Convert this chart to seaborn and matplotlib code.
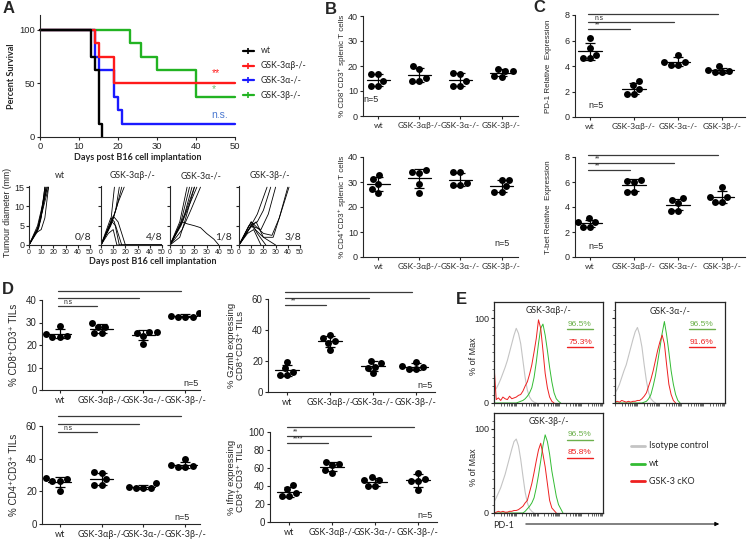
import numpy as np
import pandas as pd
import matplotlib
matplotlib.use("Agg")
import matplotlib.pyplot as plt
from matplotlib.lines import Line2D
from matplotlib.patches import FancyArrowPatch
from matplotlib.ticker import FixedLocator, MultipleLocator, NullFormatter
import seaborn as sns

W, H = 747, 542

groups = ["wt", "GSK-3αβ-/-", "GSK-3α-/-", "GSK-3β-/-"]
km_colors = ["black", "#ff1a1a", "#1a1aff", "#22b322"]

# A: Kaplan-Meier survival (step points)
km_days = [
    [0, 13, 14, 15, 16],
    [0, 14, 15, 19, 50],
    [0, 14, 15, 19, 20, 21, 50],
    [0, 23, 26, 30, 40, 50],
]
km_surv = [
    [100, 75, 62.5, 12.5, 0],
    [100, 87.5, 75, 50, 50],
    [100, 75, 62.5, 37.5, 25, 12.5, 12.5],
    [100, 87.5, 75, 62.5, 37.5, 37.5],
]

# A: tumour growth per mouse (days, diameter mm)
tumour_wt = [
    ([0, 7, 10, 13], [0, 4, 8, 15]),
    ([0, 7, 10, 14], [0, 5, 9, 15]),
    ([0, 7, 11, 15], [0, 4, 10, 15]),
    ([0, 8, 12, 16], [0, 5, 10, 15]),
    ([0, 8, 12, 15], [0, 4.5, 11, 15]),
    ([0, 7, 10, 13], [0, 3.5, 7, 15]),
    ([0, 5, 10, 13, 16], [0, 3, 4, 7, 15]),
    ([0, 7, 11, 14], [0, 4.2, 9, 15]),
]
tumour_ab = [
    ([0, 8, 11], [0, 6, 15]),
    ([0, 8, 12, 15], [0, 5, 9, 15]),
    ([0, 9, 13, 17], [0, 6, 10, 15]),
    ([0, 10, 14, 19], [0, 7, 11, 15]),
    ([0, 8, 11, 15, 50], [0, 7, 6, 0, 0]),
    ([0, 9, 12, 17, 50], [0, 6, 5, 0, 0]),
    ([0, 10, 14, 20, 50], [0, 7.5, 6, 0, 0]),
    ([0, 6, 10, 13, 50], [0, 3, 4, 0, 0]),
]
tumour_a = [
    ([0, 8, 14], [0, 6, 15]),
    ([0, 9, 16], [0, 6, 15]),
    ([0, 8, 12, 18], [0, 5, 8, 15]),
    ([0, 10, 20], [0, 6, 15]),
    ([0, 9, 14, 22], [0, 5, 9, 15]),
    ([0, 10, 17, 25], [0, 4, 9, 15]),
    ([0, 8, 12, 20], [0, 2, 6, 15]),
    ([0, 10, 14, 20, 25, 30, 36, 40], [0, 6, 5.5, 5, 4.5, 3, 1.5, 0]),
]
tumour_b = [
    ([0, 8, 15, 23], [0, 4, 8, 15]),
    ([0, 8, 15, 20, 26], [0, 5, 6, 9, 15]),
    ([0, 10, 18, 24, 30], [0, 5, 4, 8, 15]),
    ([0, 10, 20, 27, 33, 40], [0, 6, 3, 2.5, 7, 15]),
    ([0, 10, 20, 28, 34, 41], [0, 5, 2, 2, 8, 15]),
    ([0, 8, 14, 20, 25, 30], [0, 4, 6, 2, 1, 0]),
    ([0, 10, 15, 22], [0, 6, 3, 0]),
    ([0, 7, 12, 18], [0, 3, 4, 0]),
]
tumour_frac = ["0/8", "4/8", "1/8", "3/8"]

# B, C, D: per-mouse values (wt, 3ab, 3a, 3b)
cd8_spleen = [[17, 17, 14, 12, 12], [19.9, 18.8, 15.2, 14.1, 14.1],
              [17.4, 17, 14, 12, 12], [18.8, 18.1, 18.1, 16.1, 15.7]]
cd4_spleen = [[32.7, 31.3, 29.3, 27.3, 25.6], [34.7, 34, 33.6, 29.3, 25.6],
              [34, 34, 29.6, 28.7, 28.7], [30.9, 30.9, 28.3, 26, 26]]
pd1_expr = [[6.2, 5.4, 4.9, 4.6, 4.6], [2.8, 2.5, 2.2, 1.8, 1.8],
            [4.9, 4.3, 4.3, 4.1, 4.1], [4.0, 3.7, 3.6, 3.5, 3.5]]
tbet_expr = [[3.1, 2.8, 2.8, 2.4, 2.4], [6.2, 6.1, 6.0, 5.2, 5.2],
             [4.7, 4.6, 4.3, 3.7, 3.7], [5.6, 4.8, 4.8, 4.4, 4.4]]
cd8_til = [[28.5, 25, 24, 23.7, 23.7], [29.6, 28.1, 27.8, 25.2, 25.2],
           [26, 26, 25.2, 24.2, 20.5], [34.4, 32.9, 32.6, 32.6, 32.6]]
gzmb_til = [[19.6, 15.2, 13, 10.9, 10.9], [36.9, 34.8, 32.6, 31.5, 27.2],
            [20, 19, 16.3, 15.2, 12], [19.6, 16.7, 16.3, 14.6, 14.6]]
cd4_til = [[28, 27.3, 26.3, 26.3, 20.4], [32, 31, 27.3, 23.9, 23.9],
           [24.9, 22.9, 21.8, 21.8, 21.8], [39.6, 36.1, 35.5, 35.1, 35.1]]
ifng_til = [[41, 36.4, 32, 29, 29], [67, 64, 63, 58, 55],
            [50, 46.5, 46.5, 40, 40], [55, 48, 46, 46, 36]]

# E: PD-1 histograms (% of max per channel)
iso_ab = [14, 17, 22, 28, 35, 42, 50, 60, 70, 80, 88, 82, 70, 50, 30, 15, 7, 3, 1, 0]
ko_ab = [45, 4, 6, 3, 7, 5, 4, 8, 5, 6, 7, 9, 10, 14, 20, 25, 34, 45, 60, 76, 98, 88, 62, 35, 18, 7, 2, 0]
wt_ab = [0, 0, 0, 0, 0, 0, 0, 0, 0, 0, 0, 1, 2, 3, 5, 8, 12, 18, 30, 48, 70, 88, 93, 80, 62, 42, 25, 12, 5, 2, 0]
iso_a = [12, 16, 22, 30, 38, 45, 55, 65, 75, 84, 89, 80, 66, 45, 26, 12, 5, 2, 0]
ko_a = [1, 2, 1, 3, 2, 1, 2, 1, 2, 2, 3, 3, 5, 8, 12, 20, 28, 38, 50, 62, 72, 80, 70, 45, 22, 10, 3, 0]
wt_a = [0, 0, 0, 0, 0, 0, 0, 0, 0, 0, 0, 0, 0, 1, 2, 5, 10, 20, 32, 48, 65, 82, 96, 80, 60, 38, 22, 10, 3, 0]
iso_b = [13, 18, 24, 30, 38, 46, 56, 66, 76, 85, 88, 80, 64, 44, 25, 12, 5, 2, 0]
ko_b = [0, 1, 2, 1, 2, 1, 1, 2, 2, 3, 3, 4, 6, 8, 12, 15, 25, 35, 48, 62, 75, 83, 70, 55, 35, 15, 6, 3, 0]
wt_b = [0, 0, 0, 0, 0, 0, 0, 0, 0, 0, 0, 0, 0, 0, 2, 5, 8, 12, 18, 30, 45, 62, 80, 93, 85, 70, 50, 35, 20, 10, 5, 0]
pct_wt = ["96.5%", "96.5%", "96.5%"]
pct_ko = ["75.3%", "91.6%", "85.8%"]

sns.set_theme(style="ticks")
ARIAL = ["Liberation Sans", "DejaVu Sans"]
CALIBRI = ["Lato", "DejaVu Sans"]
plt.rcParams["font.family"] = ARIAL
plt.rcParams["font.size"] = 6.5
plt.rcParams["axes.linewidth"] = 0.8
plt.rcParams["xtick.major.width"] = 0.8
plt.rcParams["ytick.major.width"] = 0.8
plt.rcParams["xtick.major.size"] = 2.5
plt.rcParams["ytick.major.size"] = 2.5
plt.rcParams["xtick.major.pad"] = 1.5
plt.rcParams["ytick.major.pad"] = 1.2

fig = plt.figure(figsize=(W / 100, H / 100), dpi=100)


def add_ax(x0, y0, x1, y1):
    return fig.add_axes([x0 / W, 1 - y1 / H, (x1 - x0) / W, (y1 - y0) / H])


def ftext(x, y, s, **kw):
    fig.text(x / W, 1 - y / H, s, **kw)


def fline(xs, ys, **kw):
    fig.add_artist(Line2D([x / W for x in xs], [1 - y / H for y in ys], **kw))


# panel letters
for letter, (lx, ly) in zip("ABCDE", [(3, 1), (325, 2), (533, 0), (2, 282), (456, 292)]):
    ftext(lx, ly, letter, fontsize=12, fontweight="bold", ha="left", va="top")

# ---- A: survival
ax = add_ax(40, 15, 235, 137)
for i in [3, 2, 1, 0]:
    sns.lineplot(x=km_days[i], y=km_surv[i], drawstyle="steps-post", color=km_colors[i],
                 lw=1.7, estimator=None, ax=ax, clip_on=False)
ax.set_xlim(0, 50)
ax.set_ylim(0, 114)
ax.set_xticks([0, 10, 20, 30, 40, 50])
ax.set_yticks([0, 50, 100])
ax.tick_params(labelsize=6.8)
ax.tick_params(axis="x", pad=1)
sns.despine(ax=ax)
ax.text(45, 60, "**", color="#ff2020", fontsize=7.5, ha="center", va="center")
ax.text(44.5, 45, "*", color="#70b870", fontsize=7.5, ha="center", va="center")
ax.text(46, 21, "n.s.", color="#4a78d0", fontsize=7.5, ha="center", va="center")
ftext(12, 76, "Percent Survival", rotation=90, ha="center", va="center",
      fontsize=6.5, fontweight="bold", family=CALIBRI)
ftext(138, 157, "Days post B16 cell implantation", ha="center", va="center",
      fontsize=6.5, fontweight="bold", family=CALIBRI)
for k, yy in enumerate([51, 66, 80, 95]):
    fline([243, 254], [yy, yy], color=km_colors[k], lw=1.6)
    fline([248.5], [yy], color=km_colors[k], marker="|", markersize=4, markeredgewidth=1.2)
    ftext(261, yy, groups[k], ha="left", va="center", fontsize=6.3, family=CALIBRI)

# ---- A: tumour growth
tumour_sets = [tumour_wt, tumour_ab, tumour_a, tumour_b]
for k, x0 in enumerate([29, 101, 170, 239]):
    ax = add_ax(x0, 186, x0 + 61, 245)
    for days, mm in tumour_sets[k]:
        sns.lineplot(x=days, y=mm, color="black", lw=0.6, estimator=None, sort=False, ax=ax)
    ax.set_xlim(0, 50)
    ax.set_ylim(0, 15.3)
    ax.set_xticks([0, 10, 20, 30, 40, 50])
    ax.set_yticks([0, 5, 10, 15])
    ax.tick_params(axis="x", labelsize=5, length=2, pad=1)
    ax.tick_params(axis="y", labelsize=6.5, length=2)
    if k > 0:
        ax.set_yticklabels([])
    sns.despine(ax=ax)
    ax.text(44, 2.2, tumour_frac[k], ha="center", va="center", fontsize=7.5, family=CALIBRI)
    ftext(x0 + 31, 176, groups[k], ha="center", va="center", fontsize=6.3, family=CALIBRI)
ftext(8, 212, "Tumour diameter (mm)", rotation=90, ha="center", va="center", fontsize=6.3)
ftext(153, 261, "Days post B16 cell implantation", ha="center", va="center",
      fontsize=6.5, fontweight="bold", family=CALIBRI)


# ---- dot plots
def dot_panel(rect, data, ylim, yticks, xlim, ylabel, ylab_x, n_xy, sigs=None,
              ylab_fs=5.8, tick_fs=6.5, cat_fs=6):
    ax = add_ax(*rect)
    df = pd.DataFrame({"group": np.repeat(groups, 5), "value": np.concatenate(data)})
    sns.swarmplot(data=df, x="group", y="value", order=groups, color="black", size=5, ax=ax)
    for i, vals in enumerate(data):
        m, s = np.mean(vals), np.std(vals, ddof=1)
        ax.plot([i - 0.28, i + 0.28], [m, m], color="black", lw=0.9)
        ax.errorbar(i, m, yerr=s, color="black", lw=0.9, capsize=3.5, capthick=0.9)
    ax.set_xlim(*xlim)
    ax.set_ylim(*ylim)
    ax.set_yticks(yticks)
    ax.set_xlabel("")
    ax.set_ylabel("")
    ax.tick_params(axis="y", labelsize=tick_fs)
    ax.tick_params(axis="x", labelsize=cat_fs)
    for t in ax.get_xticklabels():
        t.set_family(CALIBRI)
    sns.despine(ax=ax)
    ftext(ylab_x, (rect[1] + rect[3]) / 2, ylabel, rotation=90, ha="center", va="center",
          fontsize=ylab_fs, linespacing=1.05)
    ftext(n_xy[0], n_xy[1], "n=5", ha="center", va="center", fontsize=6.5)
    if sigs:
        for yv, end, lab in sigs:
            ax.plot([-0.05, end - 0.1], [yv, yv], color="#3a3a3a", lw=0.9, clip_on=False)
            ax.annotate(lab, (0.1, yv), xytext=(0, 0.3), textcoords="offset points",
                        ha="left", va="bottom", fontsize=4.8)
    return ax


dot_panel((363, 16, 518, 116), cd8_spleen, (0, 40), [0, 10, 20, 30, 40], (-0.37, 3.4),
          "% CD8⁺CD3⁺ splenic T cells", 342, (371, 100))
dot_panel((363, 157, 518, 257), cd4_spleen, (0, 40), [0, 10, 20, 30, 40], (-0.37, 3.4),
          "% CD4⁺CD3⁺ splenic T cells", 342, (502, 243))
dot_panel((575, 15, 745, 117), pd1_expr, (0, 8), [0, 2, 4, 6, 8], (-0.34, 3.52),
          "PD-1 Relative  Expression", 549, (596, 106),
          [(8.08, 3, "**"), (7.45, 2, "n.s"), (6.9, 1, "**")])
dot_panel((575, 157, 745, 257), tbet_expr, (0, 8), [0, 2, 4, 6, 8], (-0.34, 3.52),
          "T-bet Relative  Expression", 549, (596, 247),
          [(8.16, 3, "**"), (7.5, 2, "**"), (6.96, 1, "**")])
dot_panel((42, 300, 200, 390), cd8_til, (0, 40), [0, 10, 20, 30, 40], (-0.42, 3.35),
          "% CD8⁺CD3⁺ TILs", 14, (191, 383),
          [(44, 3, "***"), (40.9, 2, "n.s"), (37.3, 1, "n.s")],
          ylab_fs=7, tick_fs=7, cat_fs=6.5)
dot_panel((268, 299, 435, 392), gzmb_til, (0, 60), [0, 20, 40, 60], (-0.44, 3.44),
          "% Gzmb expressing\nCD8⁺CD3⁺ TILs", 236, (425, 385),
          [(64.5, 3, "n.s"), (60.6, 2, "n.s"), (56.1, 1, "**")],
          ylab_fs=6.8, tick_fs=7, cat_fs=6.5)
dot_panel((42, 426, 200, 524), cd4_til, (0, 60), [0, 20, 40, 60], (-0.42, 3.35),
          "% CD4⁺CD3⁺ TILs", 14, (182, 517),
          [(66, 3, "***"), (61.2, 2, "n.s"), (56.3, 1, "n.s")],
          ylab_fs=7, tick_fs=7, cat_fs=6.5)
dot_panel((270, 432, 437, 522), ifng_til, (0, 100), [0, 20, 40, 60, 80, 100], (-0.44, 3.44),
          "% Ifnγ expressing\nCD8⁺CD3⁺ TILs", 236, (425, 516),
          [(105.5, 3, "**"), (95.5, 2, "**"), (87.8, 1, "****")],
          ylab_fs=6.8, tick_fs=7, cat_fs=6.5)

# ---- E: PD-1 histograms
decade_ticks = [(d + np.log10(k)) * 49 / 5 for d in range(5) for k in range(1, 10)]
hist_sets = [(iso_ab, wt_ab, ko_ab), (iso_a, wt_a, ko_a), (iso_b, wt_b, ko_b)]
hist_rects = [(494, 302, 603, 403), (615, 302, 725, 403), (494, 413, 603, 513)]
hist_titles = ["GSK-3αβ-/-", "GSK-3α-/-", "GSK-3β-/-"]
for k in range(3):
    ax = add_ax(*hist_rects[k])
    iso, wt, ko = hist_sets[k]
    sns.lineplot(x=range(len(iso)), y=iso, color="#c4c4c4", lw=0.8, estimator=None, ax=ax)
    sns.lineplot(x=range(len(wt)), y=wt, color="#33bb33", lw=0.7, estimator=None, ax=ax)
    sns.lineplot(x=range(len(ko)), y=ko, color="#ee2020", lw=0.7, estimator=None, ax=ax)
    ax.set_xlim(0, 49)
    ax.set_ylim(0, 119)
    ax.xaxis.set_major_locator(FixedLocator(decade_ticks))
    ax.xaxis.set_major_formatter(NullFormatter())
    ax.tick_params(axis="x", length=1.8, width=0.5)
    ax.set_yticks([0, 100])
    ax.yaxis.set_minor_locator(MultipleLocator(10))
    ax.tick_params(axis="y", which="minor", length=1.5, width=0.5)
    ax.tick_params(axis="y", labelsize=6.5)
    if k == 1:
        ax.set_yticklabels([])
    for sp in ax.spines.values():
        sp.set_linewidth(0.9)
    ax.text(0.5, 0.96, hist_titles[k], transform=ax.transAxes, ha="center", va="top",
            fontsize=6.3, family=CALIBRI)
    x1, y1 = hist_rects[k][2], hist_rects[k][1]
    ftext(x1 - 23, y1 + 22, pct_wt[k], ha="center", va="center", fontsize=6, color="#6cb04c")
    fline([x1 - 36, x1 - 10], [y1 + 27, y1 + 27], color="#6cb04c", lw=1)
    ftext(x1 - 23, y1 + 40, pct_ko[k], ha="center", va="center", fontsize=6, color="#ee2020")
    fline([x1 - 36, x1 - 10], [y1 + 45, y1 + 45], color="#ee2020", lw=1)
    if k != 1:
        ftext(473, (hist_rects[k][1] + hist_rects[k][3]) / 2 + 4, "% of Max", rotation=90,
              ha="center", va="center", fontsize=6.5)

for col, lab, yy in zip(["#c4c4c4", "#33bb33", "#ee2020"],
                        ["Isotype control", "wt", "GSK-3 cKO"], [446, 464, 481]):
    fline([631, 645], [yy, yy], color=col, lw=2)
    ftext(649, yy, lab, ha="left", va="center", fontsize=6.5, family=CALIBRI)

ftext(493, 525, "PD-1", ha="left", va="center", fontsize=6.5, family=CALIBRI)
fig.add_artist(FancyArrowPatch((523 / W, 1 - 524 / H), (722 / W, 1 - 524 / H),
                               transform=fig.transFigure, arrowstyle="-|>",
                               mutation_scale=6, lw=0.7, color="black"))

fig.savefig("out.png", dpi=100)
